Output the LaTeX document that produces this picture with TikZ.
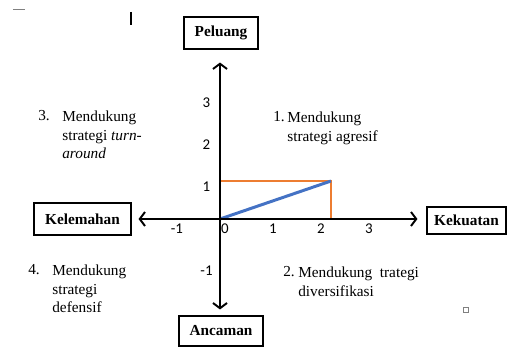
\documentclass[tikz,border=0pt]{standalone}
\usepackage{fontspec}
\setmainfont{Liberation Serif}
\newfontfamily\numfont{Carlito}
\usepackage{tikz}
\usetikzlibrary{positioning,calc,arrows.meta}

\definecolor{linblue}{RGB}{68,114,196}
\definecolor{linorange}{RGB}{237,125,49}

\tikzset{
  axis/.style={line width=1.1pt, -{Straight Barb[length=3pt,width=8pt,line width=1.1pt]}},
  labelbox/.style={draw, line width=0.6pt, inner sep=0pt, font=\fontsize{8.7pt}{10pt}\selectfont\bfseries},
  quadtext/.style={inner sep=0pt, anchor=north west, align=left, font=\fontsize{8.7pt}{10.6pt}\selectfont},
  quadnum/.style={inner sep=0pt, anchor=base west, font=\fontsize{8.7pt}{10.6pt}\selectfont},
  ticklabel/.style={inner sep=0pt, font=\numfont\fontsize{8.5pt}{10pt}\selectfont}
}

\begin{document}
\begin{tikzpicture}
    \useasboundingbox (-4.4,-2.56) rectangle (5.74,4.38);

    % Boxes
    \coordinate (O) at (0,0);
    \node[labelbox, minimum width=1.48cm, minimum height=0.64cm] (peluang) at (0.02,3.72) {Peluang};
    \node[labelbox, minimum width=1.94cm, minimum height=0.64cm] (kelemahan) at (-2.75,0) {Kelemahan};
    \node[labelbox, minimum width=1.58cm, minimum height=0.54cm] (kekuatan) at (4.93,-0.03) {Kekuatan};
    \node[labelbox, minimum width=1.68cm, minimum height=0.6cm] (ancaman) at (0.02,-2.24) {Ancaman};

    % Position lines
    \coordinate (P) at (2.22,0.76);
    \draw[linorange, line width=0.8pt] (O |- P) -- (P) -- (P |- O);
    \draw[linblue, line width=1.7pt] (O) -- (P);

    % Axes
    \draw[axis, shorten >=0.26cm] (O) -- (O |- peluang.south);
    \draw[axis, shorten >=0.12cm] (O) -- (O |- ancaman.north);
    \draw[axis, shorten >=0.14cm] (O) -- (kelemahan.east |- O);
    \draw[axis, shorten >=0.18cm] (O) -- (kekuatan.west |- O);

    % Ticks
    \foreach \x in {-1,0,1,2,3} \node[ticklabel] at (\x*0.96+0.1,-0.2) {\x};
    \foreach \y in {-1,1,2,3} \node[ticklabel] at (-0.27,\y*0.84-0.2) {\y};

    % Quadrants
    \node[quadnum] (n3) at (-3.64,1.96) {3.};
    \node[quadtext] (q3) at (-3.16,2.17) {Mendukung\\strategi \textit{turn}-\\\textit{around}};
    \node[quadnum] (n1) at (1.06,1.94) {1.};
    \node[quadtext] (q1) at (1.34,2.15) {Mendukung\\strategi agresif};
    \node[quadnum] (n4) at (-3.84,-1.12) {4.};
    \node[quadtext] (q4) at (-3.36,-0.91) {Mendukung\\strategi\\defensif};
    \node[quadnum] (n2) at (1.26,-1.16) {2.};
    \node[quadtext] (q2) at (1.56,-0.95) {Mendukung\ \ trategi\\diversifikasi};

    % Marks
    \draw[gray, line width=0.5pt] (-4.14,4.2) -- (-3.9,4.2);
    \draw[line width=1.2pt] (-1.78,4.14) -- (-1.78,3.88);
    \draw[gray, line width=0.4pt] (4.86,-1.86) rectangle (4.96,-1.76);
\end{tikzpicture}
\end{document}
